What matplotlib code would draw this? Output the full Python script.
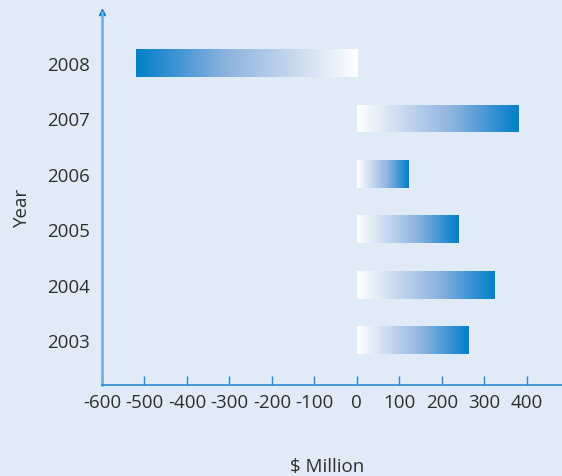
import numpy as np
import matplotlib
matplotlib.use("Agg")
import matplotlib.pyplot as plt
from matplotlib.colors import LinearSegmentedColormap

# Net figures per year, $ million
years = ["2003", "2004", "2005", "2006", "2007", "2008"]
values = [262, 323, 240, 121, 380, -521]
xticks = [-600, -500, -400, -300, -200, -100, 0, 100, 200, 300, 400]

bg = "#e1ebf7"
text_color = "#2e2e2e"

plt.rcParams["font.family"] = ["Open Sans", "DejaVu Sans"]

fig = plt.figure(figsize=(5.62, 4.77), dpi=100, facecolor=bg)
ax = fig.add_axes([0.1815, 0.1908, 0.8185, 0.7819], facecolor=bg)

# white at zero fading into a strong blue at the end of each bar
fade = LinearSegmentedColormap.from_list(
    "fade", [(0.0, "#ffffff"), (0.3, "#c6d7ee"), (0.6, "#8ab2df"),
             (0.85, "#3590d2"), (1.0, "#0080c8")])
grad = np.linspace(0, 1, 256).reshape(1, -1)

ypos = np.arange(len(years))
bars = ax.barh(ypos, values, height=0.5, color="none", edgecolor="none")
for bar, v in zip(bars, values):
    y0 = bar.get_y()
    y1 = y0 + bar.get_height()
    im = ax.imshow(grad, cmap=fade, extent=[0, v, y0, y1],
                   aspect="auto", interpolation="bilinear", zorder=2)
    im.set_clip_path(bar)

ax.set_xlim(-600, 483)
ax.set_ylim(-0.81, 5.92)
ax.set_aspect("auto")

ax.set_xticks(xticks)
ax.set_xticklabels([str(t) for t in xticks])
ax.set_yticks(ypos)
ax.set_yticklabels(years)

ax.tick_params(axis="x", direction="in", length=6.5, width=1,
               color="#2a8ad0", pad=6, labelsize=13.5, labelcolor=text_color)
ax.tick_params(axis="y", length=0, pad=9, labelsize=13.5, labelcolor=text_color)

for side in ["top", "right"]:
    ax.spines[side].set_visible(False)
ax.spines["left"].set_color("#6ab0e0")
ax.spines["left"].set_linewidth(1.8)
ax.spines["bottom"].set_color("#2a8ad0")
ax.spines["bottom"].set_linewidth(1.2)

# arrow head on top of the y axis
ax.plot(0, 1, marker="^", markersize=4, color="#1a7acc",
        transform=ax.transAxes, clip_on=False)

fig.text(0.039, 0.566, "Year", rotation=90, ha="center", va="center",
         fontsize=13.5, color=text_color)
fig.text(0.582, 0.021, "$ Million", ha="center", va="center",
         fontsize=13.5, color=text_color)

fig.savefig("out.png", dpi=100, facecolor=bg)
